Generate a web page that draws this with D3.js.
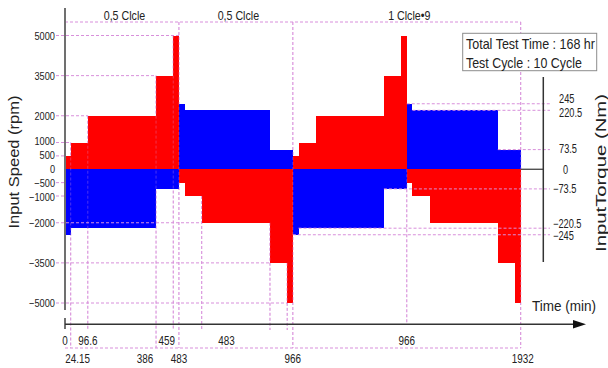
<!DOCTYPE html>
<html><head><meta charset="utf-8">
<script src="https://cdn.jsdelivr.net/npm/d3@7"></script>
<style>
body{margin:0;background:#fff}
svg text{font-family:"Liberation Sans",Arial,sans-serif;fill:#222}
</style></head><body><svg id="chart" width="608" height="368"></svg>
<script>
// Step profile: interval breakpoints (min) and the value held on each interval
const timeBreaks = [0, 24.15, 96.6, 386, 459, 483, 507.15, 579.6, 869, 942, 966,
  990.15, 1062.6, 1352, 1425, 1449, 1473.15, 1545.6, 1835, 1908, 1932];
const speedRpm = [500, 1000, 2000, 3500, 5000, -500, -1000, -2000, -3500, -5000,
  500, 1000, 2000, 3500, 5000, -500, -1000, -2000, -3500, -5000];
const torqueNm = [-245, -220.5, -220.5, -73.5, -73.5, 245, 220.5, 220.5, 73.5, 73.5,
  -245, -220.5, -220.5, -73.5, -73.5, 245, 220.5, 220.5, 73.5, 73.5];

const speedTicks = [5000, 3500, 2000, 1000, 500, 0, -500, -1000, -2000, -3500, -5000];
const torqueTicks = [245, 220.5, 73.5, 0, -73.5, -220.5, -245];

const timeUpperAt = [0, 96.6, 459, 685, 1449];
const timeUpperText = ["0", "96.6", "459", "483", "966"];
const timeLowerAt = [24.15, 386, 483, 966, 1932];
const timeLowerText = ["24.15", "386", "483", "966", "1932"];

const cycleSpans = [[0, 483], [483, 966], [966, 1932]];
const cycleText = ["0,5 Clcle", "0,5 Clcle", "1 Clcle\u20229"];

const noteLines = ["Total Test Time : 168 hr", "Test Cycle : 10 Cycle"];

const svg = d3.select("#chart");
const x = d3.scaleLinear().domain([0, 1932]).range([65, 520.7]);
const yS = d3.scaleLinear().domain([-5000, 5000]).range([303, 35.5]);
const yT = d3.scaleLinear().domain([-245, 245]).range([234.75, 103.75]);

// squeeze text horizontally to a narrow face
function narrow(sel, k = 0.82) {
  sel.each(function () {
    const w = this.getComputedTextLength();
    this.setAttribute("textLength", (w * k).toFixed(1));
    this.setAttribute("lengthAdjust", "spacingAndGlyphs");
  });
}

const steps = speedRpm.map((s, i) => ({t0: timeBreaks[i], t1: timeBreaks[i + 1], s, q: torqueNm[i]}));

const topY = 22, rowUpEnd = 330, rowLowEnd = 348, axisY = 324.3, axisR = 543.3;
const vGuides = [[24.15, yS(1000), rowLowEnd], [96.6, yS(2000), rowUpEnd], [386, yS(3500), rowLowEnd],
 [459, yS(5000), rowUpEnd], [483, topY, rowLowEnd], [579.6, yS(-1000), rowUpEnd],
 [869, yS(-2000), rowUpEnd], [942, yS(-3500), rowUpEnd], [966, topY, rowLowEnd],
 [1449, yS(0), axisY], [1932, topY, rowLowEnd]];

const dashed = g => g.attr("stroke", "#d88fdb").attr("stroke-width", 1)
  .attr("stroke-dasharray", "3,2").attr("fill", "none");

// vertical guides beneath the bars
svg.append("g").call(dashed).selectAll("line").data(vGuides).join("line")
  .attr("x1", d => x(d[0])).attr("x2", d => x(d[0])).attr("y1", d => d[1]).attr("y2", d => d[2]);

// speed bars (red) and torque bars (blue)
svg.append("g").attr("shape-rendering", "crispEdges").selectAll("rect").data(steps).join("rect")
  .attr("x", d => x(d.t0)).attr("width", d => x(d.t1) - x(d.t0))
  .attr("y", d => yS(Math.max(0, d.s))).attr("height", d => Math.abs(yS(d.s) - yS(0)))
  .attr("fill", "#ff0000");
svg.append("g").attr("shape-rendering", "crispEdges").selectAll("rect").data(steps).join("rect")
  .attr("x", d => x(d.t0)).attr("width", d => x(d.t1) - x(d.t0))
  .attr("y", d => yT(Math.max(0, d.q))).attr("height", d => Math.abs(yT(d.q) - yT(0)))
  .attr("fill", "#0000ff");

// faint trace of the vertical guides across the bars
svg.append("g").call(dashed).attr("stroke-opacity", 0.35).selectAll("line").data(vGuides).join("line")
  .attr("x1", d => x(d[0])).attr("x2", d => x(d[0])).attr("y1", d => d[1]).attr("y2", d => d[2]);

// horizontal guides
const gd = svg.append("g").call(dashed);
const hLine = (y, x1, x2) => gd.append("line").attr("x1", x1).attr("x2", x2).attr("y1", y).attr("y2", y);
[[5000, 483], [3500, 386], [2000, 96.6], [1000, 24.15], [500, 0], [-500, 0], [-1000, 0],
 [-2000, 579.6], [-3500, 869], [-5000, 942]].forEach(([v, t]) => hLine(yS(v), 56, x(t)));
[[245, 1449], [220.5, 1473.15], [73.5, 1835], [-73.5, 1352], [-220.5, 990.15], [-245, 966]]
  .forEach(([v, t]) => hLine(yT(v), x(t), 550));
hLine(topY, x(0), x(1932));
hLine(rowLowEnd, x(0), x(1932));

// axes lines
svg.append("line").attr("x1", 65).attr("x2", 65).attr("y1", 8).attr("y2", 310)
  .attr("stroke", "#707070").attr("stroke-width", 2);
svg.append("line").attr("x1", 65).attr("x2", 65).attr("y1", 318).attr("y2", 329)
  .attr("stroke", "#707070").attr("stroke-width", 2);
svg.append("line").attr("x1", 65).attr("x2", 575).attr("y1", axisY).attr("y2", axisY)
  .attr("stroke", "#333").attr("stroke-width", 1.5);
svg.append("path").attr("d", `M573,${axisY - 4.3}L586,${axisY}L573,${axisY + 4.3}Z`).attr("fill", "#111");
svg.append("line").attr("x1", axisR).attr("x2", axisR).attr("y1", 77).attr("y2", 262)
  .attr("stroke", "#333").attr("stroke-width", 1.5);
svg.append("line").attr("x1", x(1932)).attr("x2", axisR).attr("y1", yS(0)).attr("y2", yS(0))
  .attr("stroke", "#333").attr("stroke-width", 1.2);

// speed axis labels
const leftAxis = svg.append("g").attr("transform", "translate(65,0)")
  .call(d3.axisLeft(yS).tickValues(speedTicks).tickSize(0).tickPadding(10).tickFormat(d3.format("d")));
leftAxis.select(".domain").remove();
const sShift = {1000: -2, 500: -1.5, 0: -0.5, "-500": 0.3, "-1000": 1};
leftAxis.selectAll("text").attr("font-size", 11.5).attr("fill", "#222").attr("font-family", null)
  .attr("dy", "0.34em").attr("transform", d => `translate(0,${sShift[d] || 0})`)
  .text(d => d < 0 ? "\u2212" + Math.abs(d) : d)
  .call(narrow, 0.8);

// torque axis labels
const tShift = {245: -5, 220.5: 2, 73.5: -1, 0: 1, "-220.5": -4.5, "-245": 1.5};
svg.append("g").selectAll("text").data(torqueTicks).join("text")
  .attr("x", d => d > 0 ? 559 : d === 0 ? 563 : 553)
  .attr("y", d => yT(d) + (tShift[d] || 0)).attr("dy", "0.35em")
  .attr("font-size", 12).text(d => d === 0 ? "0" : d < 0 ? "\u2212" + Math.abs(d) : String(d))
  .call(narrow, 0.77);

// time labels
const upDx = {"459": -6.5};
svg.append("g").selectAll("text").data(timeUpperAt).join("text")
  .attr("x", (d, i) => x(d) + (upDx[timeUpperText[i]] || 0)).attr("y", 340).attr("dy", "0.35em")
  .attr("text-anchor", "middle").attr("font-size", 13).text((d, i) => timeUpperText[i])
  .call(narrow, 0.76);
const lowDx = {"24.15": 7, "386": -11, "1932": 2};
svg.append("g").selectAll("text").data(timeLowerAt).join("text")
  .attr("x", (d, i) => x(d) + (lowDx[timeLowerText[i]] || 0)).attr("y", 358).attr("dy", "0.35em")
  .attr("text-anchor", "middle").attr("font-size", 13).text((d, i) => timeLowerText[i])
  .call(narrow, 0.76);

// cycle labels above the top bracket
svg.append("g").selectAll("text").data(cycleSpans).join("text")
  .attr("x", d => (x(d[0]) + x(d[1])) / 2 + 2.5).attr("y", 15).attr("dy", "0.35em")
  .attr("text-anchor", "middle").attr("font-size", 13.5).text((d, i) => cycleText[i])
  .call(narrow, 0.79);

// axis titles
svg.append("text").attr("transform", "translate(19,162) rotate(-90)").attr("text-anchor", "middle")
  .attr("font-size", 15.5).attr("textLength", 133).attr("lengthAdjust", "spacingAndGlyphs")
  .text("Input Speed (rpm)");
svg.append("text").attr("transform", "translate(606,173) rotate(-90)").attr("text-anchor", "middle")
  .attr("font-size", 15).attr("textLength", 158).attr("lengthAdjust", "spacingAndGlyphs")
  .text("InputTorque (Nm)");
svg.append("text").attr("x", 532).attr("y", 311).attr("font-size", 15)
  .attr("textLength", 64).attr("lengthAdjust", "spacingAndGlyphs").text("Time (min)");

// test summary box
svg.append("rect").attr("x", 462.7).attr("y", 33.3).attr("width", 134).attr("height", 37.4)
  .attr("fill", "#fff").attr("stroke", "#8c8c8c").attr("stroke-width", 1);
const noteWidths = [129, 116];
svg.append("g").selectAll("text").data(noteLines).join("text")
  .attr("font-size", 14).attr("dy", "0.36em").text(d => d)
  .each(function (d, i) {
    const k = noteWidths[i] / this.getComputedTextLength();
    this.setAttribute("transform", `translate(466,${43.5 + i * 19}) scale(${k.toFixed(3)},1)`);
  });
</script></body></html>
